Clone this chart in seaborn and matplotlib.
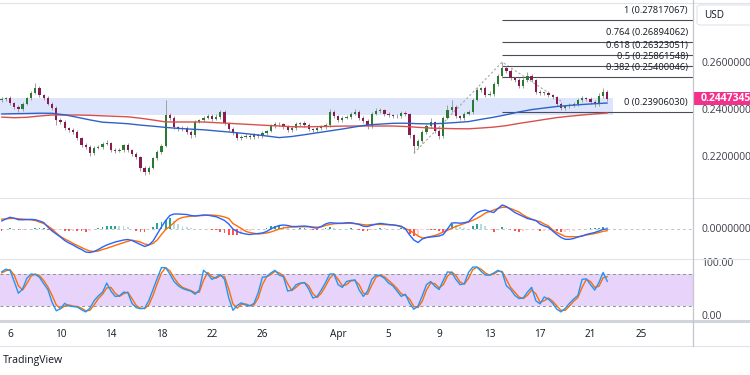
import numpy as np
import pandas as pd
import matplotlib
matplotlib.use("Agg")
import matplotlib.pyplot as plt
import matplotlib.dates as mdates
from matplotlib.lines import Line2D
from matplotlib.patches import Rectangle, FancyBboxPatch
import seaborn as sns

# ---------------- data ----------------
first_candle = "2024-03-05 08:00"   # 8h candles
first_open = 0.2443

closes = [
    0.2447, 0.2451, 0.2430, 0.2413, 0.2404, 0.2426, 0.2451, 0.2472, 0.2494, 0.2464,
    0.2451, 0.2426, 0.2409, 0.2357, 0.2349, 0.2323, 0.2315, 0.2306, 0.2281, 0.2251,
    0.2243, 0.2217, 0.2238, 0.2243, 0.2255, 0.2260, 0.2230, 0.2226, 0.2230, 0.2251,
    0.2230, 0.2213, 0.2200, 0.2153, 0.2136, 0.2153, 0.2196, 0.2221, 0.2247, 0.2379,
    0.2366, 0.2328, 0.2319, 0.2323, 0.2306, 0.2294, 0.2349, 0.2357, 0.2366, 0.2374,
    0.2362, 0.2370, 0.2392, 0.2345, 0.2319, 0.2302, 0.2281, 0.2285, 0.2289, 0.2285,
    0.2294, 0.2289, 0.2302, 0.2311, 0.2332, 0.2340, 0.2340, 0.2328, 0.2315, 0.2323,
    0.2340, 0.2345, 0.2336, 0.2319, 0.2315, 0.2323, 0.2328, 0.2336, 0.2392, 0.2374,
    0.2357, 0.2366, 0.2370, 0.2383, 0.2392, 0.2366, 0.2353, 0.2332, 0.2383, 0.2396,
    0.2400, 0.2383, 0.2379, 0.2374, 0.2374, 0.2387, 0.2383, 0.2294, 0.2247, 0.2268,
    0.2306, 0.2332, 0.2349, 0.2311, 0.2289, 0.2366, 0.2400, 0.2413, 0.2374, 0.2366,
    0.2383, 0.2392, 0.2443, 0.2485, 0.2494, 0.2464, 0.2468, 0.2511, 0.2545, 0.2579,
    0.2566, 0.2536, 0.2528, 0.2502, 0.2528, 0.2545, 0.2528, 0.2477, 0.2472, 0.2472,
    0.2464, 0.2455, 0.2426, 0.2409, 0.2417, 0.2421, 0.2426, 0.2443, 0.2451, 0.2447,
    0.2434, 0.2426, 0.2460, 0.2477, 0.24473,
]
# wick lengths above / below the body, in units of 0.0001
upper_wick = [
    8, 6, 8, 6, 8, 8, 6, 10, 20, 8, 6, 8, 6, 8, 10,
    8, 6, 8, 10, 6, 8, 6, 8, 10, 8, 12, 6, 8, 10, 6,
    8, 6, 8, 6, 10, 8, 6, 8, 8, 64, 10, 8, 6, 8, 10,
    8, 10, 6, 8, 10, 8, 14, 6, 8, 6, 8, 6, 8, 10, 8,
    8, 6, 8, 6, 10, 8, 8, 6, 8, 8, 8, 6, 10, 8, 6,
    8, 8, 10, 14, 8, 6, 8, 8, 10, 12, 6, 8, 8, 10, 12,
    10, 6, 8, 6, 8, 10, 8, 6, 6, 8, 8, 10, 18, 6, 8,
    10, 22, 28, 8, 6, 10, 10, 8, 12, 6, 10, 12, 10, 8, 25,
    10, 8, 6, 8, 14, 18, 8, 6, 8, 6, 8, 6, 6, 8, 6,
    8, 8, 10, 8, 6, 8, 10, 12, 18, 6,
]
lower_wick = [
    8, 8, 10, 8, 14, 8, 6, 8, 6, 8, 8, 6, 8, 20, 10,
    8, 10, 8, 8, 10, 8, 12, 8, 6, 8, 6, 10, 8, 6, 8,
    8, 10, 8, 12, 13, 8, 6, 8, 8, 6, 8, 10, 8, 8, 10,
    12, 8, 6, 8, 6, 8, 6, 8, 10, 8, 10, 8, 8, 6, 8,
    8, 8, 6, 8, 6, 8, 8, 8, 10, 8, 6, 8, 8, 8, 10,
    8, 6, 8, 8, 6, 8, 8, 6, 8, 6, 8, 10, 14, 8, 6,
    8, 8, 8, 8, 8, 8, 10, 12, 30, 10, 8, 6, 8, 10, 12,
    8, 6, 8, 10, 8, 8, 6, 8, 6, 10, 8, 6, 8, 8, 8,
    8, 10, 8, 10, 8, 8, 8, 10, 8, 8, 8, 8, 10, 8, 8,
    8, 8, 8, 8, 10, 10, 12, 8, 8, 8,
]

# moving averages, one value per day starting at the first candle
ma_blue = [
    0.23830, 0.23843, 0.23851, 0.23864, 0.23860, 0.23796, 0.23690, 0.23579, 0.23481, 0.23451,
    0.23417, 0.23358, 0.23311, 0.23260, 0.23217, 0.23187, 0.23158, 0.23111, 0.23064, 0.23013,
    0.22958, 0.22894, 0.22826, 0.22873, 0.22949, 0.23030, 0.23111, 0.23192, 0.23281, 0.23366,
    0.23400, 0.23434, 0.23438, 0.23417, 0.23409, 0.23434, 0.23468, 0.23507, 0.23604, 0.23694,
    0.23800, 0.23919, 0.24017, 0.24085, 0.24149, 0.24196, 0.24234, 0.24268, 0.24298,
]
ma_red = [
    0.23698, 0.23672, 0.23690, 0.23745, 0.23787, 0.23787, 0.23787, 0.23775, 0.23753, 0.23732,
    0.23711, 0.23651, 0.23575, 0.23494, 0.23490, 0.23490, 0.23490, 0.23460, 0.23434, 0.23404,
    0.23375, 0.23345, 0.23319, 0.23289, 0.23281, 0.23294, 0.23302, 0.23315, 0.23319, 0.23319,
    0.23319, 0.23319, 0.23298, 0.23264, 0.23230, 0.23217, 0.23204, 0.23200, 0.23234, 0.23273,
    0.23336, 0.23430, 0.23511, 0.23596, 0.23677, 0.23736, 0.23787, 0.23834, 0.23872,
]

# MACD (units of 0.0001)
macd_line = [
    8, 10, 11.7, 10.8, 9.3, 9.2, 9.4, 9.6, 9.3, 8,
    6.5, 2, -2, -5, -8, -11.5, -14, -16, -18.5, -20.5,
    -23, -23.5, -22.5, -20.5, -18, -16, -14.5, -13, -12, -11,
    -10.5, -11.5, -13.5, -15.5, -17.5, -16, -12, -5, 2, 8.5,
    13.5, 15, 15, 14.8, 14.5, 13.5, 13, 13.5, 14, 13.8,
    13, 12.3, 10.5, 8.5, 5, 0, -2.5, -4, -5, -5.5,
    -5, -4.5, -4, -2.5, 0, 2, 3.5, 4, 3.5, 2.5,
    2.5, 2.8, 3, 2.5, 1.5, 0.8, 2.5, 5, 6.3, 6,
    5.7, 5.8, 6.2, 6.3, 5.5, 4.5, 2.8, 2.5, 3.8, 4.8,
    5.6, 5, 4.5, 4.1, 3.5, 2.8, 0, -6, -11, -13.5,
    -10, -8.5, -8, -7.5, -7, -5.5, 0, 6, 6.2, 5.8,
    6.3, 7.3, 12, 16, 18, 19, 17.5, 16.5, 20.5, 24,
    22.5, 19.5, 16.5, 14.5, 12.5, 10.5, 9.5, 8.5, 5, 3,
    1.5, -2, -5.5, -8.5, -10.3, -10.3, -9.5, -8, -7, -5.5,
    -4.5, -3.5, -2, -0.3, 0,
]
macd_signal = [
    9.8, 10.2, 10.5, 10.6, 10.3, 10, 9.6, 9.2, 8.5, 7,
    5.5, 3, 0, -4, -7.5, -10, -12, -14.5, -16.5, -18.5,
    -20.5, -22, -22.5, -22, -20.5, -19.3, -17.8, -16.4, -15, -13.7,
    -12.3, -11.2, -12, -13, -15, -15.8, -14.5, -11, -5.5, -0.5,
    2.5, 6.5, 10, 11.5, 12.3, 12.8, 13, 13.3, 13.6, 13.8,
    14, 13.5, 13, 12, 10.5, 5.5, 3, 0.5, -2.3, -3.5,
    -4.3, -5, -4.5, -4, -3, -1.5, 0, 1, 1.7, 2,
    2.1, 2.2, 2.3, 2.2, 2, 1.8, 2.2, 3.5, 4.5, 5.2,
    5.5, 5.6, 5.7, 5.7, 5.4, 5, 4.3, 4, 4.5, 4.6,
    4.6, 4.4, 4.2, 4, 3.6, 2, 0.5, -1.5, -4, -7,
    -9, -8.5, -7.5, -6.5, -5, -3, -1.3, 0.8, 2.5, 4,
    5.5, 7, 8.7, 10.7, 13, 16, 17.5, 19, 20.5, 21.7,
    21.8, 20.5, 18.8, 17, 14, 11.7, 10, 8.3, 7.3, 5,
    3, -1, -3.5, -5.5, -7.5, -7.7, -7.7, -7.7, -7, -6,
    -5.3, -4.5, -3.5, -2.3, -1.7,
]

# Stoch RSI
stoch_k = [
    84, 89, 87, 66, 44, 52, 72, 80, 79, 74,
    62, 51, 27, 11, 15, 25, 20, 19, 18, 13,
    9, 16, 30, 39, 46, 63, 48, 38, 39, 46,
    45, 25, 17, 15, 16, 30, 51, 72, 92, 92,
    80, 66, 58, 53, 50, 48, 42, 50, 87, 80,
    70, 74, 79, 70, 35, 12, 21, 26, 22, 20,
    25, 45, 74, 75, 82, 87, 78, 75, 48, 50,
    60, 63, 64, 52, 35, 38, 50, 64, 80, 80,
    60, 55, 66, 68, 69, 50, 38, 48, 70, 78,
    77, 72, 63, 58, 48, 38, 42, 25, 14, 20,
    39, 60, 66, 57, 51, 68, 84, 83, 70, 60,
    62, 83, 93, 93, 85, 78, 78, 82, 87, 83,
    58, 51, 40, 34, 35, 46, 55, 30, 24, 37,
    33, 25, 14, 9, 16, 25, 33, 40, 70, 71,
    60, 50, 64, 83, 66,
]
stoch_d = [
    82, 86, 88, 78, 58, 50, 62, 76, 80, 77,
    68, 56, 40, 22, 15, 20, 22, 20, 19, 16,
    11, 12, 22, 34, 42, 54, 55, 44, 38, 43,
    46, 34, 21, 16, 15, 22, 40, 62, 82, 92,
    86, 73, 62, 55, 52, 49, 45, 46, 68, 83,
    75, 72, 77, 75, 52, 24, 16, 23, 24, 21,
    22, 35, 60, 75, 79, 85, 82, 77, 62, 49,
    55, 62, 64, 58, 43, 36, 44, 57, 72, 80,
    70, 58, 60, 67, 68, 60, 44, 42, 59, 74,
    78, 75, 68, 61, 53, 43, 40, 33, 19, 17,
    29, 50, 63, 62, 54, 60, 76, 84, 77, 65,
    61, 72, 88, 93, 89, 82, 78, 80, 85, 85,
    70, 55, 46, 37, 34, 40, 50, 43, 27, 30,
    35, 29, 20, 12, 12, 20, 29, 36, 55, 70,
    66, 55, 57, 73, 75,
]

fib_levels = ["1", "0.764", "0.618", "0.5", "0.382", "0"]
fib_prices = [0.27817067, 0.26894062, 0.26323051, 0.25861548, 0.25400046, 0.23906030]
fib_start = 119                      # candle where the retracement is anchored
last_price = 0.2447345
price_ticks = [0.26, 0.24, 0.22]
zone = (0.23787, 0.24498, "2024-04-22 18:00")
swing_idx = [98, 119, 133]
swing_price = [0.2216, 0.2604, 0.2438]

tick_days = ["2024-03-06", "2024-03-10", "2024-03-14", "2024-03-18", "2024-03-22",
             "2024-03-26", "2024-04-01", "2024-04-05", "2024-04-09", "2024-04-13",
             "2024-04-17", "2024-04-21", "2024-04-25"]
tick_labels = ["6", "10", "14", "18", "22", "26", "Apr", "5", "9", "13", "17", "21", "25"]

# ---------------- frame ----------------
times = pd.date_range(first_candle, periods=len(closes), freq="8h")
df = pd.DataFrame({"time": times, "close": closes})
df["open"] = [first_open] + closes[:-1]
df["high"] = df[["open", "close"]].max(axis=1) + np.array(upper_wick) * 1e-4
df["low"] = df[["open", "close"]].min(axis=1) - np.array(lower_wick) * 1e-4
df["t"] = mdates.date2num(df["time"])
t_ma = df["t"].values[::3]
hist = np.array(macd_line) - np.array(macd_signal)

sns.set_theme(style="white")
plt.rcParams["font.family"] = ["Open Sans", "DejaVu Sans"]
txt = "#131722"
axis_txt = "#3b3e48"

W, H = 750, 375
fig = plt.figure(figsize=(7.5, 3.75), dpi=100, facecolor="white")


def px_axes(x0, y0, x1, y1):
    return fig.add_axes([x0 / W, 1 - y1 / H, (x1 - x0) / W, (y1 - y0) / H])


ax_p = px_axes(0, 3, 693, 198)
ax_m = px_axes(0, 198, 693, 259)
ax_s = px_axes(0, 259, 693, 321)

day0 = mdates.date2num(pd.Timestamp("2024-03-06"))
ppd = 12.62
xlim = (day0 - 10 / ppd, day0 + 683 / ppd)
for ax in (ax_p, ax_m, ax_s):
    ax.set_xlim(*xlim)
    ax.set_facecolor("none")
    for s in ax.spines.values():
        s.set_visible(False)
    ax.set_yticks([])
    ax.set_xticks([])

ax_p.set_ylim(0.20256, 0.28553)
ax_m.set_ylim(-30, 31)
ax_s.set_ylim(-8.1, 108.2)
ppx = (0.28553 - 0.20256) / 195

# ---- price pane ----
zend = mdates.date2num(pd.Timestamp(zone[2]))
ax_p.add_patch(Rectangle((xlim[0], zone[0]), zend - xlim[0], zone[1] - zone[0],
                         fc="#dce5fc", ec="none", zorder=0))

up = df["close"] >= df["open"]
body_lo = df[["open", "close"]].min(axis=1)
body_h = (df["close"] - df["open"]).abs().clip(lower=0.00025)
ax_p.vlines(df["t"], df["low"], df["high"], color="#9e9e9e", lw=0.7, zorder=2)
ax_p.bar(df["t"], body_h, bottom=body_lo, width=0.18,
         color=np.where(up, "#2a7a32", "#8a1b4e"), linewidth=0, zorder=3)

sns.lineplot(x=t_ma, y=ma_red, ax=ax_p, color="#d8504c", linewidth=1.0, zorder=4)
sns.lineplot(x=t_ma, y=ma_blue, ax=ax_p, color="#2f62c9", linewidth=1.0, zorder=4)

ax_p.plot(df["t"].values[swing_idx], swing_price, ls=(0, (2, 2)), color="#a8a8a8", lw=0.8, zorder=1)

x_fib = df["t"].values[fib_start]
ax_p.hlines(fib_prices, x_fib, xlim[1], color="#4a4d57", lw=0.8, zorder=1)
for lvl, pr in zip(fib_levels, fib_prices):
    ax_p.annotate(f"{lvl} ({pr:.8f})", xy=(688 / 693, pr), xycoords=ax_p.get_yaxis_transform(),
                  xytext=(0, 6.8), textcoords="offset points", ha="right", va="center",
                  fontsize=6.7, color=txt)

ytr = ax_p.get_yaxis_transform()
for pt in price_ticks:
    ax_p.text(701 / 693, pt, f"{pt:.7f}", transform=ytr, va="center", ha="left",
              fontsize=7.5, color=axis_txt, clip_on=False)
ax_p.add_patch(Rectangle((1.0, last_price - 6.5 * ppx), 0.1, 13 * ppx, transform=ytr,
                         fc="#f2318c", ec="none", clip_on=False, zorder=6))
ax_p.text(701 / 693, last_price, f"{last_price:.7f}", transform=ytr, va="center", ha="left",
          fontsize=7.5, color="white", fontweight="bold", clip_on=False, zorder=7)

# ---- MACD pane ----
hcol = []
for i, h in enumerate(hist):
    prev = hist[i - 1] if i else h
    if h >= 0:
        hcol.append("#26a69a" if h >= prev else "#b2dfdb")
    else:
        hcol.append("#ffcdd2" if h > prev else "#ff5252")
ax_m.axhline(0, ls=(0, (3, 3)), color="#c2c4cb", lw=0.7, zorder=0)
ax_m.bar(df["t"], hist, width=0.14, color=hcol, linewidth=0, zorder=1)
sns.lineplot(x=df["t"].values, y=macd_line, ax=ax_m, color="#2962ff", linewidth=1.0, zorder=3)
sns.lineplot(x=df["t"].values, y=macd_signal, ax=ax_m, color="#ff6d00", linewidth=1.0, zorder=2)
ax_m.text(701 / 693, 0, "0.0000000", transform=ax_m.get_yaxis_transform(), va="center",
          ha="left", fontsize=7.5, color=axis_txt, clip_on=False)

# ---- Stoch RSI pane ----
ax_s.axhspan(20, 80, color="#e8d3fb", lw=0, zorder=0)
for lv in (20, 80):
    ax_s.axhline(lv, ls=(0, (3, 3)), color="#8c8f98", lw=0.7, zorder=1)
sns.lineplot(x=df["t"].values, y=stoch_d, ax=ax_s, color="#ff6d00", linewidth=1.0, zorder=2)
sns.lineplot(x=df["t"].values, y=stoch_k, ax=ax_s, color="#2196f3", linewidth=1.0, zorder=3)
for v, s in ((100, "100.00"), (0, "0.00")):
    ax_s.text(701 / 693, v, s, transform=ax_s.get_yaxis_transform(), va="center", ha="left",
              fontsize=7.5, color=axis_txt, clip_on=False)

ax_s.set_xticks(mdates.date2num(pd.to_datetime(tick_days)))
ax_s.set_xticklabels(tick_labels)
ax_s.tick_params(axis="x", length=0, pad=5.5, labelsize=7.2, labelcolor=txt)

# ---- pane separators ----
def hline(y, color="#e0e3eb", lw=0.8):
    fig.add_artist(Line2D([0, 1], [1 - y / H] * 2, color=color, lw=lw, transform=fig.transFigure))


hline(2.5)
hline(198)
hline(259)
hline(321, color="#d1d4dc", lw=2.2)
hline(346)
fig.add_artist(Line2D([693 / W] * 2, [1 - 346 / H, 1], color="#c3c6ce", lw=0.9, transform=fig.transFigure))

fig.add_artist(FancyBboxPatch((697 / W, 1 - 25 / H), 60 / W, 20 / H,
                              boxstyle="round,pad=0,rounding_size=0.006", transform=fig.transFigure,
                              fc="white", ec="#e0e3eb", lw=0.8))
fig.text(704 / W, 1 - 15 / H, "USD", va="center", ha="left", fontsize=7.2, color=txt)
fig.text(3 / W, 1 - 361 / H, "TradingView", va="center", ha="left", fontsize=7.6, color=txt)

fig.savefig("out.png", dpi=100, facecolor="white")
